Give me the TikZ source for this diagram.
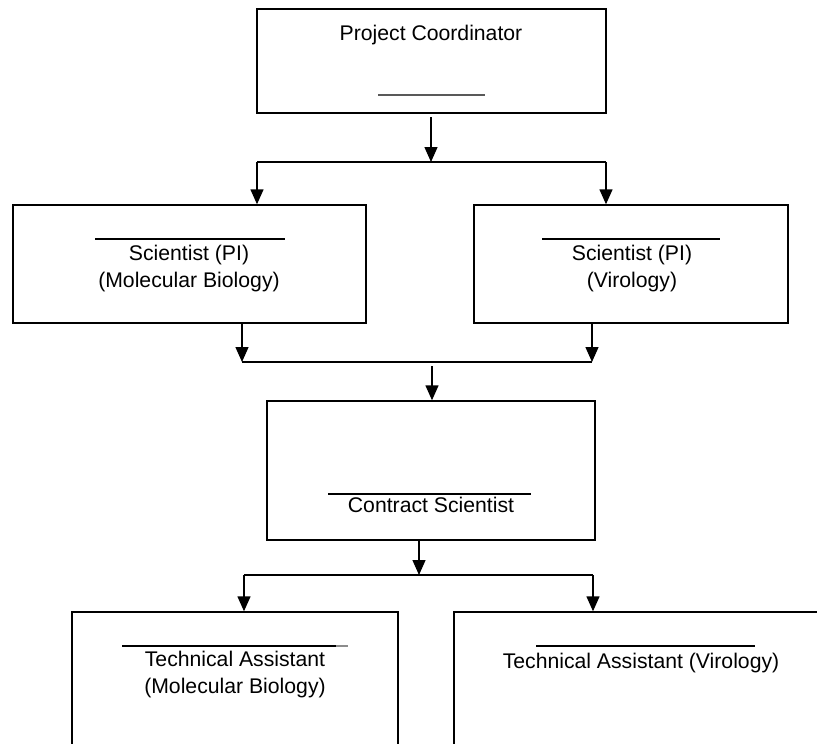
\documentclass[tikz,border=0pt]{standalone}
\usepackage{fontspec}
\setmainfont{Liberation Sans}
\usetikzlibrary{arrows.meta}
\tikzset{
  box/.style={draw=black, line width=1.4pt, minimum width=#1, inner sep=0pt},
  lbl/.style={anchor=base, inner sep=0pt, align=center, font=\fontsize{21.2}{27}\selectfont},
  arr/.style={line width=1.4pt, -{Triangle[width=13pt,length=15pt]}},
  conn/.style={line width=1.4pt},
  uline/.style={line width=1.2pt, black},
}
\begin{document}
\begin{tikzpicture}[x=1pt,y=-1pt]
\useasboundingbox (0,0) rectangle (817,744);
\clip (0,0) rectangle (817,744);
% boxes
\node[box=349pt, minimum height=104pt] (top) at (431.5,61) {};
\node[box=353pt, minimum height=118pt] (sciL) at (189.5,264) {};
\node[box=314pt, minimum height=118pt] (sciR) at (631,264) {};
\node[box=328pt, minimum height=139pt] (con) at (431,470.5) {};
\node[box=326pt, minimum height=160pt] (taL) at (235,692) {};
\node[box=380pt, minimum height=160pt] (taR) at (644,692) {};
% labels (base anchor = baseline of last line)
\node[lbl] (tTop) at (431,40) {Project Coordinator};
\node[lbl] (tSciL) at (189,287) {Scientist (PI)\\(Molecular Biology)};
\node[lbl] (tSciR) at (632,287) {Scientist (PI)\\(Virology)};
\node[lbl] (tCon) at (431,512) {Contract Scientist};
\node[lbl] (tTaL) at (235,693) {Technical Assistant\\(Molecular Biology)};
\node[lbl] (tTaR) at (641,668) {Technical Assistant (Virology)};
% underlines
\draw[line width=1.2pt, black!65] (378,95) -- (485,95);
\draw[uline] (95,239) -- (285,239);
\draw[uline] (542,239) -- (720,239);
\draw[uline] (328,494) -- (531,494);
\draw[line width=1.6pt] (122,646) -- (336,646);
\draw[line width=1.2pt, black!45] (336,646) -- (348,646);
\draw[line width=1.6pt] (536,646) -- (755,646);
% junction coordinates
\coordinate (s1) at (431,117);
\coordinate (j1) at (431,162);
\coordinate (j1l) at (257,162);
\coordinate (j1r) at (606,162);
\coordinate (s2l) at (242,323);
\coordinate (s2r) at (592,323);
\coordinate (j2l) at (242,362);
\coordinate (j2r) at (592,362);
\coordinate (s3) at (432,366);
\coordinate (s4) at (419,540);
\coordinate (j4) at (419,575);
\coordinate (j4l) at (244,575);
\coordinate (j4r) at (593,575);
% connectors
\draw[arr] (s1) -- (j1);
\draw[conn] (j1l) -- (j1r);
\draw[arr] (j1l) -- (j1l |- sciL.north);
\draw[arr] (j1r) -- (j1r |- sciR.north);
\draw[arr] (s2l) -- (j2l);
\draw[arr] (s2r) -- (j2r);
\draw[conn] (j2l) -- (j2r);
\draw[arr] (s3) -- (s3 |- con.north);
\draw[arr] (s4) -- (j4);
\draw[conn] (j4l) -- (j4r);
\draw[arr] (j4l) -- (j4l |- taL.north);
\draw[arr] (j4r) -- (j4r |- taR.north);
\end{tikzpicture}
\end{document}
